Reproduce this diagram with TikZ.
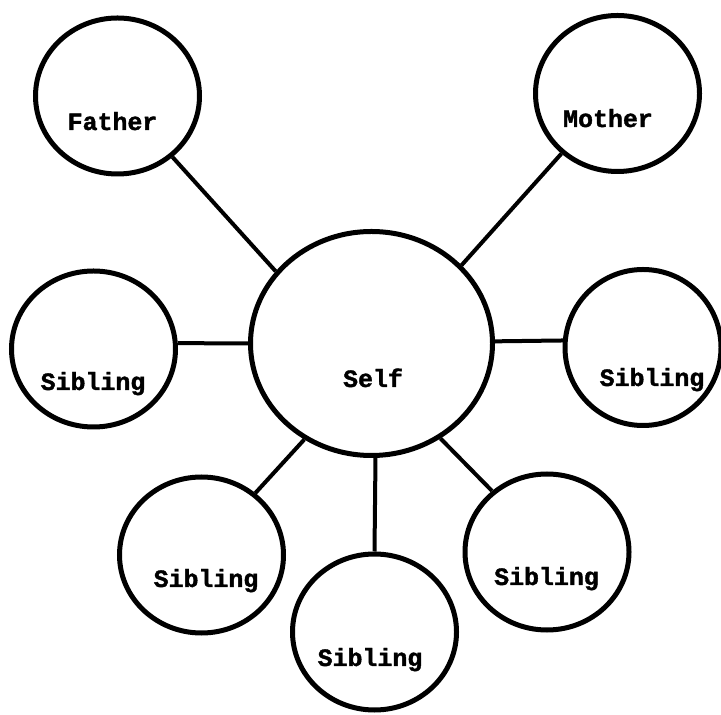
\documentclass[tikz,border=0pt]{standalone}
\usepackage{fontspec}
\newfontfamily\typewriter{Liberation Mono Bold}[FakeBold=1.5]
\usetikzlibrary{shapes.geometric}
\tikzset{
  person/.style={ellipse, draw, line width=5bp, minimum width=164bp, minimum height=156bp, inner sep=0pt},
  selfnode/.style={ellipse, draw, line width=5bp, minimum width=242bp, minimum height=224bp, inner sep=0pt},
  lbl/.style={anchor=base, inner sep=0pt, font=\fontsize{25}{28}\selectfont\typewriter},
  link/.style={line width=4bp}
}
\begin{document}
\begin{tikzpicture}[x=1bp,y=1bp]
\useasboundingbox (0,0) rectangle (721,715);
\node[selfnode] (self) at (371.5,371.5) {};
\node[person] (father) at (117.5,619) {};
\node[person] (mother) at (617.5,621.5) {};
\node[person] (sibL) at (93.5,366) {};
\node[person, minimum width=156bp] (sibR) at (643,367.5) {};
\node[person] (sibBL) at (201.5,160) {};
\node[person] (sibBM) at (374.5,83) {};
\node[person] (sibBR) at (547,163) {};
\node[lbl] (tFather) at (112.5,585) {Father};
\node[lbl] (tMother) at (608,588) {Mother};
\node[lbl] (tSelf) at (373,328) {Self};
\node[lbl] (tSibL) at (93,325) {Sibling};
\node[lbl] (tSibR) at (652,329) {Sibling};
\node[lbl] (tSibBL) at (206,128) {Sibling};
\node[lbl] (tSibBM) at (370,49) {Sibling};
\node[lbl] (tSibBR) at (546.5,130) {Sibling};
\draw[link] (father.312) -- (self.143);
\draw[link] (mother.227) -- (self.41);
\draw[link] (sibL.4) -- (self.180);
\draw[link] (self.1) -- (sibR.175);
\draw[link] (self.235) -- (sibBL.49);
\draw[link] (self.272) -- (sibBM.90);
\draw[link] (self.306) -- (sibBR.132);
\end{tikzpicture}
\end{document}
